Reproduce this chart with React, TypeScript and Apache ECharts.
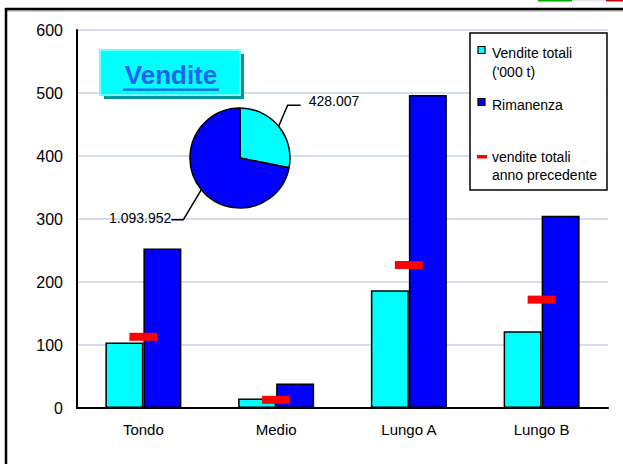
import React, { useEffect, useRef } from 'react';
import * as echarts from 'echarts';

const categories = ['Tondo', 'Medio', 'Lungo A', 'Lungo B'];
const venditeTotali = [104, 15, 187, 122];
const rimanenza = [253, 39, 497, 305];
const venditePrecedente = [113, 13, 227, 172];

const pieNames = ['Vendite totali', 'Rimanenza'];
const pieValues = [428007, 1093952];

const legendLabels = [
  ['Vendite totali', "('000 t)"],
  ['Rimanenza'],
  ['vendite totali', 'anno precedente'],
];
const titleText = 'Vendite';

const FONT = '"Liberation Sans", Arial, sans-serif';
const PIE_CX = 240;
const PIE_CY = 158;
const PIE_R = 50;

const fmt = (v: number) => String(v).replace(/\B(?=(\d{3})+(?!\d))/g, '.');

export default function App() {
  const ref = useRef<HTMLDivElement>(null);
  useEffect(() => {
    if (!ref.current) return;
    const chart = echarts.init(ref.current, undefined, { renderer: 'svg' });
    const total = pieValues.reduce((a, b) => a + b, 0);

    const option: any = {
      animation: false,
      backgroundColor: '#fff',
      textStyle: { fontFamily: FONT },
      grid: { left: 77, right: 15, top: 30, bottom: 56, containLabel: false },
      xAxis: {
        type: 'category',
        data: categories,
        axisLine: { lineStyle: { color: '#000', width: 2 } },
        axisTick: { show: false },
        axisLabel: { color: '#000', fontSize: 15, margin: 14, fontFamily: FONT },
        splitLine: { show: false },
      },
      yAxis: {
        type: 'value',
        min: 0,
        max: 600,
        interval: 100,
        axisLine: { show: true, lineStyle: { color: '#000', width: 2 } },
        axisTick: { show: false },
        axisLabel: { color: '#000', fontSize: 16, margin: 14, fontFamily: FONT },
        splitLine: { lineStyle: { color: '#d3dcf2', width: 2 } },
      },
      series: [
        {
          name: 'Vendite totali',
          type: 'bar',
          data: venditeTotali,
          barWidth: 38,
          barGap: '0%',
          itemStyle: { color: '#00ffff', borderColor: '#000', borderWidth: 1.5 },
        },
        {
          name: 'Rimanenza',
          type: 'bar',
          data: rimanenza,
          barWidth: 38,
          barGap: '0%',
          itemStyle: { color: '#0000ff', borderColor: '#000', borderWidth: 1.5 },
        },
        {
          name: 'vendite totali anno precedente',
          type: 'scatter',
          data: venditePrecedente,
          symbol: 'rect',
          symbolSize: [28, 8],
          itemStyle: { color: '#ff0000', opacity: 1 },
          emphasis: { disabled: true },
          z: 5,
        },
        {
          type: 'pie',
          center: [PIE_CX, PIE_CY],
          radius: PIE_R,
          startAngle: 90,
          clockwise: true,
          z: 6,
          data: pieNames.map((n, i) => ({
            name: n,
            value: pieValues[i],
            itemStyle: { color: i === 0 ? '#00ffff' : '#0000ff' },
          })),
          itemStyle: { borderColor: '#000', borderWidth: 1.5 },
          label: {
            show: true,
            position: 'outside',
            formatter: (p: any) => fmt(p.value),
            color: '#000',
            fontSize: 14,
            fontFamily: FONT,
          },
          labelLine: { show: true, lineStyle: { color: '#000', width: 1.5 } },
          labelLayout: (params: any) => {
            const i = params.dataIndex;
            let before = 0;
            for (let k = 0; k < i; k++) before += pieValues[k];
            const mid = ((before + pieValues[i] / 2) / total) * 2 * Math.PI;
            const sx = PIE_CX + PIE_R * Math.sin(mid);
            const sy = PIE_CY - PIE_R * Math.cos(mid);
            const right = Math.sin(mid) >= 0;
            const turn = right ? [sx + 9, sy - 21] : [sx - 18, sy + 30];
            const end = right ? [turn[0] + 13, turn[1]] : [turn[0] - 12, turn[1]];
            return {
              x: right ? end[0] + 8 : end[0],
              y: end[1] - (right ? 4 : 2),
              align: right ? 'left' : 'right',
              verticalAlign: 'middle',
              labelLinePoints: [[sx, sy], turn, end],
            };
          },
          emphasis: { disabled: true },
        },
      ],
      graphic: [
        // flag fragment at top
        { type: 'rect', z: 100, shape: { x: 538, y: 0, width: 34, height: 1.5 }, style: { fill: '#00a800' } },
        { type: 'rect', z: 100, shape: { x: 572, y: 0, width: 34, height: 1.5 }, style: { fill: '#e6e6e6' } },
        { type: 'rect', z: 100, shape: { x: 606, y: 0, width: 17, height: 1.5 }, style: { fill: '#d00000' } },
        // outer frame
        { type: 'line', z: 100, shape: { x1: 6, y1: 11, x2: 623, y2: 11 }, style: { stroke: '#999', lineWidth: 1 } },
        { type: 'line', z: 100, shape: { x1: 5, y1: 9, x2: 623, y2: 9 }, style: { stroke: '#000', lineWidth: 2.5 } },
        { type: 'line', z: 100, shape: { x1: 6, y1: 8, x2: 6, y2: 464 }, style: { stroke: '#000', lineWidth: 2.5 } },
        // title box
        { type: 'rect', z: 100, shape: { x: 104, y: 54, width: 140, height: 45 }, style: { fill: '#009999' } },
        { type: 'rect', z: 101, shape: { x: 100, y: 50, width: 140, height: 45 }, style: { fill: '#00ffff', stroke: '#70ffff', lineWidth: 2 } },
        {
          type: 'text', z: 102, x: 171, y: 75,
          style: { text: titleText, fill: '#1e64f0', fontSize: 26, fontWeight: 'bold', fontFamily: FONT, align: 'center', verticalAlign: 'middle' },
        },
        { type: 'rect', z: 102, shape: { x: 123, y: 88.5, width: 96, height: 2.3 }, style: { fill: '#1e64f0' } },
        // legend box
        { type: 'rect', z: 100, shape: { x: 470, y: 33, width: 137, height: 157 }, style: { fill: '#fff', stroke: '#000', lineWidth: 1.5 } },
        { type: 'rect', z: 101, shape: { x: 478, y: 46.5, width: 7, height: 7 }, style: { fill: '#00ffff', stroke: '#000', lineWidth: 1.2 } },
        { type: 'text', z: 101, x: 492, y: 53, style: { text: legendLabels[0][0], fill: '#000', fontSize: 14, fontFamily: FONT, verticalAlign: 'middle' } },
        { type: 'text', z: 101, x: 492, y: 72, style: { text: legendLabels[0][1], fill: '#000', fontSize: 14, fontFamily: FONT, verticalAlign: 'middle' } },
        { type: 'rect', z: 101, shape: { x: 478, y: 98.5, width: 7, height: 7 }, style: { fill: '#0000ff', stroke: '#000', lineWidth: 1.2 } },
        { type: 'text', z: 101, x: 492, y: 105, style: { text: legendLabels[1][0], fill: '#000', fontSize: 14, fontFamily: FONT, verticalAlign: 'middle' } },
        { type: 'rect', z: 101, shape: { x: 477, y: 155, width: 10, height: 3.5 }, style: { fill: '#ff0000' } },
        { type: 'text', z: 101, x: 492, y: 157, style: { text: legendLabels[2][0], fill: '#000', fontSize: 14, fontFamily: FONT, verticalAlign: 'middle' } },
        { type: 'text', z: 101, x: 492, y: 175, style: { text: legendLabels[2][1], fill: '#000', fontSize: 14, fontFamily: FONT, verticalAlign: 'middle' } },
      ],
    };
    chart.setOption(option);
    return () => chart.dispose();
  }, []);
  return <div ref={ref} style={{ position: 'absolute', left: 0, top: 0, width: 623, height: 464 }} />;
}
